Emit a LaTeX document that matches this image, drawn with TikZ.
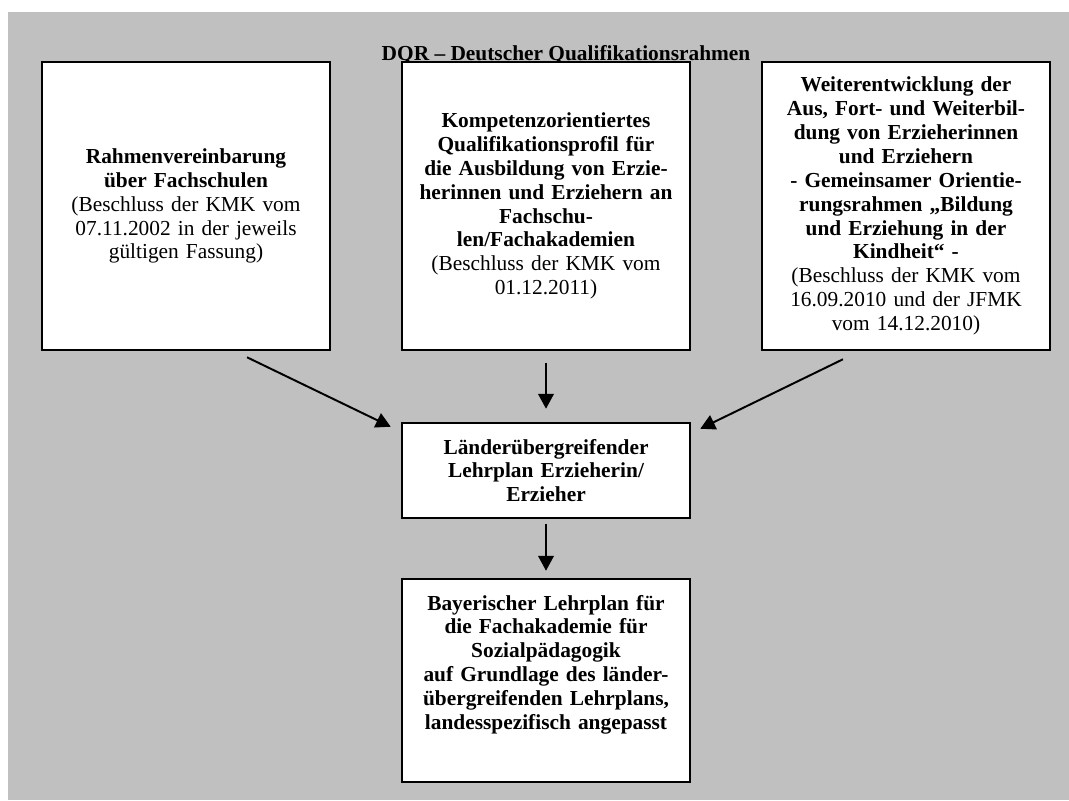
\documentclass[tikz,border=0pt]{standalone}
\usepackage{fontspec}
\setmainfont{Liberation Serif}
\usepackage{tikz}
\usetikzlibrary{arrows.meta}
\definecolor{bggray}{RGB}{192,192,192}

\begin{document}
\begin{tikzpicture}[->,>={Triangle[length=10.5pt,width=11pt]},line width=1.4pt,
			node distance=9cm,
			plan node/.style={rectangle,fill=white,draw,line width=1.8pt,
				font=\fontsize{15.2pt}{17pt}\selectfont,align=center,
				text width=6.8cm,inner xsep=0.2cm,inner ysep=0pt,minimum width=7.2cm},
			title node/.style={font=\fontsize{15.2pt}{17pt}\selectfont\bfseries,
				anchor=base,inner sep=0pt}]
			
			\useasboundingbox (0,0) rectangle (26.725,-20);
			\fill[-,bggray] (0.2,-0.3) rectangle (26.725,-20);
			
			\node[title node] (T) at (14.15,-1.5) {DQR – Deutscher Qualifikationsrahmen};
			
			\node[plan node,minimum height=7.2cm] (A) at (4.65,-5.15)
			{\textbf{Rahmenvereinbarung\\ über Fachschulen}\\
				(Beschluss der KMK vom\\ 07.11.2002 in der jeweils\\ gültigen Fassung)};
			\node[plan node,minimum height=7.2cm] (B) [right of=A]
			{\textbf{Kompetenzorientiertes\\ Qualifikationsprofil für\\
					die Ausbildung von Erzie-\\ herinnen und Erziehern an\\
					Fachschu-\\ len/Fachakademien}\\
				(Beschluss der KMK vom\\ 01.12.2011)};
			\node[plan node,minimum height=7.2cm] (C) [right of=B]
			{\textbf{Weiterentwicklung der\\ Aus, Fort- und Weiterbil-\\
					dung von Erzieherinnen\\ und Erziehern\\
					- Gemeinsamer Orientie-\\ rungsrahmen „Bildung\\
					und Erziehung in der\\ Kindheit“ -}\\
				(Beschluss der KMK vom\\ 16.09.2010 und der JFMK\\ vom 14.12.2010)};
			\node[plan node,minimum height=2.375cm] (D) [below of=B,node distance=6.6125cm]
			{\textbf{Länderübergreifender\\ Lehrplan Erzieherin/\\ Erzieher}};
			\node[plan node,minimum height=5.075cm] (E) [below of=D,node distance=5.25cm]
			{\textbf{Bayerischer Lehrplan für\\ die Fachakademie für\\ Sozialpädagogik\\
					auf Grundlage des länder-\\ übergreifenden Lehrplans,\\
					landesspezifisch angepasst}\\[9pt]\mbox{}};
			
			\path
			([xshift=1.525cm,yshift=-0.15cm]A.south) edge ([xshift=-0.25cm,yshift=-0.125cm]D.north west)
			(B) edge [shorten <=0.3cm,shorten >=0.325cm] (D)
			([xshift=-1.575cm,yshift=-0.2cm]C.south) edge ([xshift=0.225cm,yshift=-0.175cm]D.north east)
			(D) edge [shorten <=0.125cm,shorten >=0.175cm] (E);
		\end{tikzpicture}
\end{document}
